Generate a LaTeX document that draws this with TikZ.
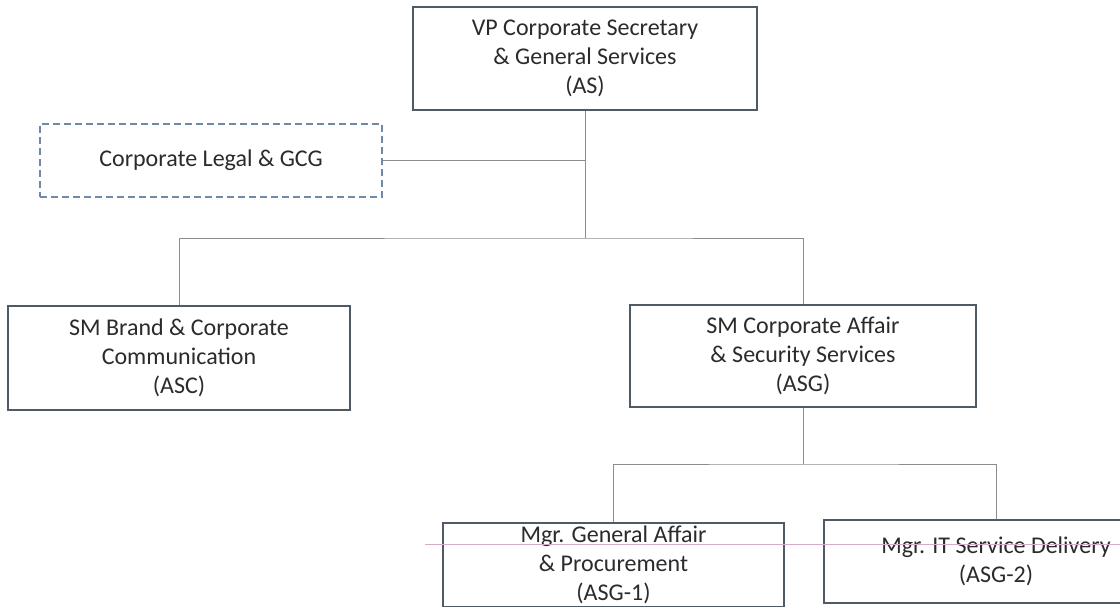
\documentclass[tikz,border=0pt]{standalone}
\usepackage{fontspec}
\setmainfont{Carlito}
\usepackage{tikz}
\usetikzlibrary{positioning,calc}
\definecolor{boxline}{HTML}{4E5A66}
\definecolor{linkgray}{HTML}{8C8C8C}
\definecolor{dashblue}{HTML}{6F8AA6}
\definecolor{txtgray}{HTML}{2B2B2B}
\definecolor{scanpink}{HTML}{D9A9C9}
\tikzset{
  % enheter
  unit/.style={draw=boxline,line width=1.3pt,fill=white,align=center,
               inner sep=0pt,text=txtgray,
               font=\fontsize{24}{29}\selectfont},
  staff/.style={unit,draw=dashblue,dash pattern=on 7pt off 4pt},
  % linjer
  link/.style={draw=linkgray,line width=1pt},
  scan/.style={draw=scanpink,line width=0.9pt},
}
\begin{document}
\begin{tikzpicture}[x=1pt,y=-1pt]
  \useasboundingbox (0,0) rectangle (1120,607);
  \clip (0,0) rectangle (1120,607);
  \fill[white] (0,0) rectangle (1120,607);
  \node[unit,minimum width=344pt,minimum height=103pt] (AS) at (585,58.5)
    {VP Corporate Secretary\\ \& General Services\\ (AS)};
  \node[staff,minimum width=342pt,minimum height=73pt] (Legal) at (211,160.5)
    {Corporate Legal \& GCG};
  \node[unit,minimum width=342pt,minimum height=104pt] (ASC) at (179,358)
    {SM Brand \& Corporate\\ Communication\\ (ASC)};
  \node[unit,minimum width=346pt,minimum height=102pt] (ASG) at (803,356)
    {SM Corporate Affair\\ \& Security Services\\ (ASG)};
  \node[unit,minimum width=341pt,minimum height=84pt] (ASG1) at (613.5,565)
    {Mgr. General Affair\\ \& Procurement\\ (ASG-1)};
  \node[unit,minimum width=344pt,minimum height=83pt] (ASG2) at (996,561.5)
    {Mgr. IT Service Delivery\\ (ASG-2)};
  \coordinate (j1) at (585,238);
  \coordinate (j2) at (803,464);
  \draw[link] (AS.south) -- (j1);
  \draw[link] (Legal.east) -- (Legal.east -| AS.south);
  \draw[link] (ASC.north) |- (j1) -| (ASG.north);
  \draw[link] (ASG.south) -- (j2);
  \draw[link] (ASG1.north) |- (j2) -| (ASG2.north);
  \draw[scan] (425,544) -- (1120,544);
\end{tikzpicture}
\end{document}
